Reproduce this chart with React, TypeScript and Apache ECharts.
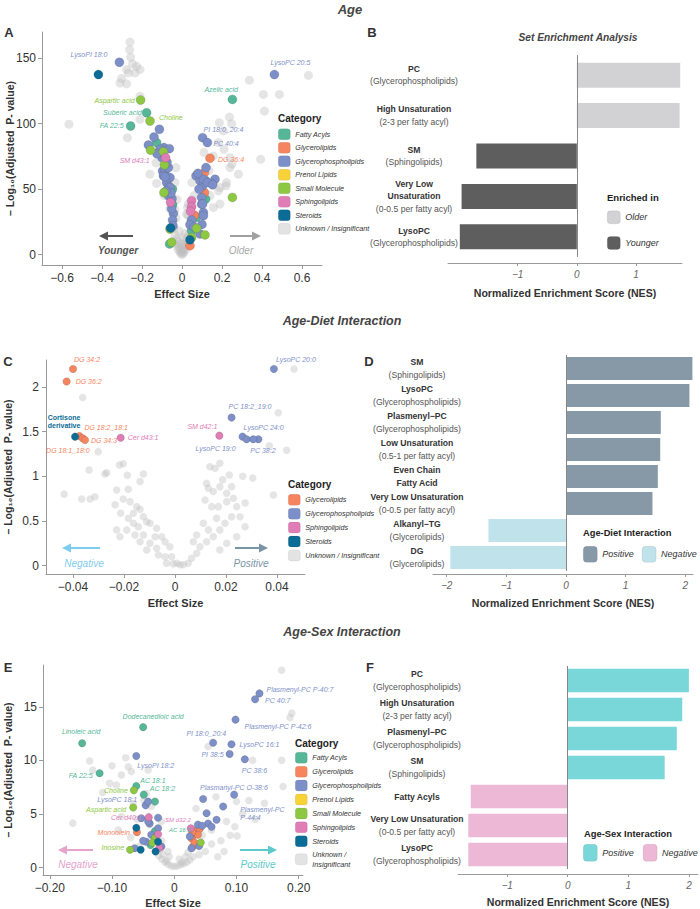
import React, { useEffect, useRef } from 'react';
import * as echarts from 'echarts';

const FN = '"Liberation Sans", Arial, Helvetica, sans-serif';
const FR = '"Liberation Sans", Arial, Helvetica, sans-serif';

// ---------- categories ----------
const CATEGORIES = ['Fatty Acyls', 'Glycerolipids', 'Glycerophospholipids', 'Prenol Lipids', 'Small Molecule', 'Sphingolipids', 'Steroids', 'Unknown / Insignificant'];
const CAT_COLORS = ['#55b798', '#f6855f', '#7d8fc9', '#f8d239', '#8ec843', '#e07cb6', '#0b6c96', '#dcdcdc'];
const UNKNOWN_FILL = 'rgba(190,190,190,0.5)';

// ---------- Panel A : Age volcano ----------
const A_FA = [[-0.127, 85.5], [-0.048, 50], [-0.047, 38], [-0.062, 8.1], [0.118, 42.4], [0.073, 28.4], [0.048, 18.3]];
const A_GL = [[0.112, 62.6], [0.112, 47.4], [0.062, 30], [0.04, 6.8]];
const A_GP = [[-0.113, 95.7], [-0.14, 89.8], [-0.168, 83.7], [-0.09, 81.7], [-0.063, 80.9], [-0.11, 80.4], [-0.097, 63.9], [-0.085, 63.9], [-0.068, 66.4], [-0.093, 60.1], [-0.06, 58.8], [-0.077, 55], [-0.065, 52], [-0.068, 44.9], [-0.05, 42.6], [-0.043, 31.4], [-0.047, 26.3], [-0.085, 59.4], [-0.06, 51.2], [-0.052, 35], [-0.045, 22], [-0.075, 70.5], [-0.1, 74], [-0.055, 47], [-0.08, 48.5], [-0.125, 77],
  [0.12, 66.4], [0.07, 60.1], [0.09, 56.3], [0.12, 56.3], [0.165, 57.6], [0.148, 54.3], [0.103, 52.5], [0.098, 43.6], [0.098, 38.5], [0.107, 32.2], [0.048, 26.4], [0.04, 22.8], [0.09, 15.7], [0.107, 57.6], [0.127, 55], [0.153, 53.3], [0.103, 38.6], [0.107, 29.7], [0.085, 50], [0.08, 62], [0.06, 21], [0.1, 23]];
const A_PR: number[][] = [];
const A_SM = [[-0.157, 79.7], [-0.093, 78.6], [-0.088, 68.5], [-0.09, 47.4], [-0.06, 19.5], [-0.052, 9.4], [0.252, 43.6], [0.073, 20], [0.115, 15], [0.048, 13]];
const A_SP = [[-0.057, 39.8], [0.048, 41.1], [0.048, 36.5], [0.043, 33]];
const A_ST = [[-0.418, 137.5], [-0.057, 20.3], [0.04, 11.2]];
const A_UN = [[-0.26, 162.3], [-0.262, 156.5], [-0.257, 150.7], [-0.247, 145.6], [-0.227, 143.8], [-0.277, 141.3], [-0.235, 138.7], [-0.268, 138.7], [-0.21, 141.3], [-0.302, 134.5], [-0.31, 131], [-0.277, 130.4], [-0.21, 121], [-0.21, 103.3], [-0.565, 99.6], [-0.273, 89.3], [-0.16, 61.4], [-0.127, 54.3], [-0.09, 45], [-0.03, 66.4], [-0.13, 70], [-0.035, 55], [-0.025, 42], [-0.06, 35],
  [0, 0], [-0.01, 2], [0.01, 2], [-0.02, 4], [0.02, 4], [-0.005, 1], [0.005, 1], [-0.015, 6], [0.015, 6], [-0.03, 8], [0.03, 8], [-0.025, 12], [0.025, 12], [-0.035, 15], [0.035, 15], [0, 3], [-0.01, 5], [0.01, 5], [-0.04, 20], [0.04, 24], [-0.02, 10], [0.02, 10], [0.005, 7], [-0.005, 8], [-0.045, 26], [0.03, 30], [0.045, 18], [-0.03, 28], [0.055, 26], [-0.015, 18], [0.015, 16], [0.005, 13], [-0.035, 34], [0.028, 36],
  [0.337, 133.2], [0.407, 122.3], [0.487, 122.3], [0.412, 109.6], [0.632, 136.8], [0.237, 105], [0.248, 99.9], [0.187, 100.7], [0.207, 94.4], [0.182, 85.5], [0.21, 80.4], [0.24, 74], [0.282, 61.4], [0.25, 69], [0.157, 75.3], [0.157, 55], [0.22, 52.5], [0.19, 38.6], [0.032, 38.6], [0.023, 31], [0.182, 48.7], [0.393, 72.8], [0.24, 66.4], [0.223, 55], [0.19, 51.2], [0.157, 36], [0.135, 64], [0.06, 45], [0.05, 55], [0.14, 45], [0.11, 78]];
// [name, category index, effect size, -log10 p]
const A_LABELED: [string, number, number, number][] = [
  ['LysoPI 18:0', 2, -0.313, 146.9], ['Aspartic acid', 4, -0.207, 118], ['Suberic acid', 0, -0.177, 108.3], ['Choline', 4, -0.16, 102],
  ['FA 22:5', 0, -0.257, 98.2], ['SM d43:1', 5, -0.082, 74], ['PI 18:0_20:4', 2, 0.103, 89.3], ['PC 40:4', 2, 0.127, 85.5],
  ['DG 36:4', 1, 0.14, 73.6], ['Azelic acid', 0, 0.252, 118.5], ['LysoPC 20:5', 2, 0.462, 137.5]];
const A_X_TICKS = [-0.6, -0.4, -0.2, 0, 0.2, 0.4, 0.6];
const A_Y_TICKS = [0, 50, 100, 150];

// ---------- Panel B : Age NES ----------
const B_CATS = ['PC', 'High Unsaturation', 'SM', 'Very Low\nUnsaturation', 'LysoPC'];
const B_SUBS = ['(Glycerophospholipids)', '(2-3 per fatty acyl)', '(Sphingolipids)', '(0-0.5 per fatty acyl)', '(Glycerophospholipids)'];
const B_NES = [1.75, 1.74, -1.70, -1.95, -1.98];
const B_TICKS = [-1, 0, 1];

// ---------- Panel C : Age-Diet volcano ----------
const C_GP = [[0.0327, 1.414]];
const C_UN = [[-0.0362, 1.88], [-0.0301, 1.275], [-0.0337, 1.07], [-0.0435, 0.8], [-0.0366, 0.745], [-0.0333, 0.745], [-0.0314, 0.77], [-0.0218, 1.126], [-0.0275, 1.026], [-0.0187, 1.01], [-0.0124, 1.026], [-0.0229, 0.847], [-0.0183, 0.855], [-0.0235, 0.68], [-0.0213, 0.586], [-0.0137, 0.94],
  [-0.0203, 0.746], [-0.0176, 0.716], [-0.015, 0.66], [-0.0183, 0.53], [-0.0163, 0.586], [-0.0137, 0.63], [-0.0124, 0.548], [-0.0111, 0.492], [-0.0163, 0.474], [-0.0144, 0.436], [-0.0098, 0.474], [-0.0072, 0.418], [-0.0189, 0.4], [-0.0216, 0.324], [-0.0229, 0.4], [-0.0157, 0.343], [-0.0124, 0.343], [-0.0078, 0.324], [-0.0052, 0.324], [-0.0137, 0.268], [-0.0098, 0.25], [-0.0039, 0.268], [-0.002, 0.212], [-0.0072, 0.195], [-0.0111, 0.176], [-0.0065, 0.12], [-0.0039, 0.1], [-0.0013, 0.1], [0.0007, 0.027], [-0.0033, 0.027], [0.002, 0.01], [-0.0007, 0.02],
  [0.0137, 1.107], [0.0157, 1.09], [0.0176, 1.145], [0.0213, 1.015], [0.0222, 0.884], [0.0187, 0.96], [0.0131, 0.866], [0.015, 0.83], [0.0118, 0.735], [0.0144, 0.66], [0.017, 0.66], [0.0203, 0.716], [0.0242, 0.66], [0.0222, 0.548], [0.0196, 0.474], [0.0176, 0.4], [0.015, 0.324], [0.0124, 0.268], [0.0098, 0.212], [0.0085, 0.138], [0.0065, 0.083], [0.0052, 0.027], [0.0033, 0.01], [0.0131, 0.4], [0.0111, 0.474], [0.0085, 0.343], [0.0072, 0.268], [0.0163, 0.53], [0.0255, 0.548], [0.0275, 0.436], [0.0203, 0.25], [0.0176, 0.176], [0.0242, 0.324], [0.0275, 0.7], [0.0124, 0.92], [0.0176, 0.884], [0.0229, 0.754], [0.0203, 0.81],
  [0.0467, 2.2], [0.0405, 1.71], [0.0438, 1.29], [0.037, 1.34], [0.0386, 0.79], [0.0266, 1.0], [0.0305, 0.98], [-0.0268, 1.04], [-0.0203, 1.14]];
const C_LABELED: [string, number, number, number][] = [
  ['DG 34:2', 1, -0.04, 2.2], ['DG 36:2', 1, -0.0425, 2.06], ['DG 18:2_18:1', 1, -0.0375, 1.45], ['DG 18:1_18:0', 1, -0.0362, 1.425], ['DG 34:3', 1, -0.0353, 1.405],
  ['Cortisone\nderivative', 6, -0.0392, 1.443], ['Cer d43:1', 5, -0.0213, 1.43], ['SM d42:1', 5, 0.0174, 1.454], ['PC 18:2_19:0', 2, 0.0222, 1.656],
  ['LysoPC 20:0', 2, 0.0388, 2.2], ['LysoPC 19:0', 2, 0.0265, 1.443], ['LysoPC 24:0', 2, 0.0281, 1.414], ['PC 38:2', 2, 0.0307, 1.414]];
const C_X_TICKS = [-0.04, -0.02, 0, 0.02, 0.04];
const C_Y_TICKS = [0, 0.5, 1, 1.5, 2];
const C_LEGEND = ['Glycerolipids', 'Glycerophospholipids', 'Sphingolipids', 'Steroids', 'Unknown / Insignificant'];

// ---------- Panel D : Age-Diet NES ----------
const D_CATS = ['SM', 'LysoPC', 'Plasmenyl\u2212PC', 'Low Unsaturation', 'Even Chain\nFatty Acid', 'Very Low Unsaturation', 'Alkanyl\u2212TG', 'DG'];
const D_SUBS = ['(Sphingolipids)', '(Glycerophospholipids)', '(Glycerophospholipids)', '(0.5-1 per fatty acyl)', '', '(0-0.5 per fatty acyl)', '(Glycerolipids)', '(Glycerolipids)'];
const D_NES = [2.12, 2.07, 1.59, 1.58, 1.54, 1.45, -1.3, -1.94];
const D_TICKS = [-2, -1, 0, 1, 2];

// ---------- Panel E : Age-Sex volcano ----------
const E_FA = [[-0.031, 6.15], [-0.038, 2.1], [-0.033, 3.0]];
const E_GL = [[0.036, 3.5], [0.041, 3.6], [0.032, 3.05], [0.028, 2.7], [0.03, 1.95], [0.038, 3.05], [0.033, 2.3], [0.029, 3.3]];
const E_GP = [[0.0786, 5.7], [0.068, 4.45], [0.052, 5.07], [0.0545, 4.1], [0.038, 4.0], [0.06, 3.8], [0.045, 3.9], [0.025, 2.9], [0.0277, 1.8], [0.04, 2.0], [-0.046, 5.8], [-0.053, 4.6], [-0.026, 4.65], [-0.0395, 4.1], [-0.026, 3.67], [-0.037, 3.05], [-0.045, 2.4], [-0.0636, 1.8], [-0.0206, 1.95], [-0.05, 2.5], [-0.042, 4.3]];
const E_PR: number[][] = [];
const E_SM = [[-0.031, 2.75], [-0.035, 2.3], [0.0427, 2.33]];
const E_SP = [[-0.026, 3.1], [-0.024, 1.85]];
const E_ST = [[-0.061, 3.7], [-0.054, 1.65], [-0.026, 2.4], [-0.03, 1.5]];
const E_UN = [[0.1726, 18.4], [0.189, 14.4], [0.186, 14.0], [0.1726, 10.0], [0.175, 7.55], [0.126, 10.0], [0.12, 6.25], [0.101, 2.95], [0.0975, 3.8], [0.084, 4.3], [0.0545, 11.3], [0.067, 6.6], [0.1, 6.15], [0.11, 5.0], [0.13, 4.5], [0.09, 3.0], [0.075, 2.5], [0.06, 2.2], [0.05, 1.5], [0.04, 1.2], [0.03, 1.0], [0.025, 0.7], [0.02, 0.5], [0.015, 0.35], [0.01, 0.25], [0.005, 0.15], [0, 0.1], [-0.005, 0.15], [-0.01, 0.3], [-0.015, 0.5], [-0.02, 0.8], [-0.025, 1.1], [-0.03, 1.5],
  [-0.012, 0.6], [0.012, 0.5], [-0.018, 1.2], [0.018, 1.0], [0.008, 0.8], [-0.008, 1.0], [0.022, 1.4], [-0.022, 1.7], [0.045, 3.0], [0.06, 3.5], [0.08, 1.5], [0.035, 5.5], [0.145, 6.0], [0.07, 1.0],
  [-0.163, 4.14], [-0.136, 9.95], [-0.131, 9.1], [-0.104, 7.87], [-0.078, 10.25], [-0.074, 9.4], [-0.069, 8.95], [-0.085, 8.64], [-0.042, 9.1], [-0.093, 7.7], [-0.085, 4.75], [-0.066, 6.0], [-0.049, 6.3], [-0.045, 6.9], [-0.037, 5.7], [-0.0206, 4.3], [-0.09, 3.5], [-0.07, 2.8], [-0.055, 2.0], [-0.06, 4.5], [-0.04, 4.0], [-0.02, 2.5], [-0.01, 1.5], [-0.1, 9.5], [-0.115, 7.0]];
const E_LABELED: [string, number, number, number][] = [
  ['Plasmenyl-PC P-40:7', 2, 0.137, 16.25], ['PC 40:7', 2, 0.13, 15.7], ['Plasmenyl-PC P-42:6', 2, 0.0985, 13.8], ['PI 18:0_20:4', 2, 0.0625, 11.65],
  ['LysoPC 16:1', 2, 0.092, 11.5], ['PI 38:5', 2, 0.089, 10.6], ['PC 38:6', 2, 0.1135, 10.1], ['Plasmanyl-PC O-38:6', 2, 0.0464, 6.4],
  ['Plasmenyl-PC\nP-44:4', 2, 0.0963, 6.8], ['SM d32:2', 5, 0.0266, 3.67], ['AC 16:0', 0, -0.031, 3.4], ['Linoleic acid', 0, -0.148, 11.6],
  ['Dodecanedioic acid', 0, -0.05, 13.1], ['FA 22:5', 0, -0.12, 8.8], ['LysoPI 18:2', 2, -0.061, 10.4], ['AC 18:1', 0, -0.061, 7.6],
  ['Choline', 4, -0.065, 7.2], ['AC 18:2', 0, -0.049, 6.8], ['LysoPC 18:1', 2, -0.042, 6.15], ['Aspartic acid', 4, -0.066, 5.6],
  ['Cer d40:1', 5, -0.041, 4.7], ['Monoolein', 1, -0.06, 3.3], ['Inosine', 4, -0.071, 1.65]];
const E_X_TICKS = [-0.2, -0.1, 0, 0.1, 0.2];
const E_Y_TICKS = [0, 5, 10, 15];

// ---------- Panel F : Age-Sex NES ----------
const F_CATS = ['PC', 'High Unsaturation', 'Plasmenyl\u2212PC', 'SM', 'Fatty Acyls', 'Very Low Unsaturation', 'LysoPC'];
const F_SUBS = ['(Glycerophospholipids)', '(2-3 per fatty acyl)', '(Glycerophospholipids)', '(Sphingolipids)', '', '(0-0.5 per fatty acyl)', '(Glycerophospholipids)'];
const F_NES = [2.0, 1.89, 1.8, 1.6, -1.6, -1.64, -1.64];
const F_TICKS = [-1, 0, 1, 2];

// ---------- label placement (pixel offsets, kept apart from data) ----------
type LP = [number, number, string, number?, boolean?];
const A_LABEL_POS: Record<string, LP> = {
  'LysoPI 18:0': [-12, -8, 'right'], 'Aspartic acid': [-6, 0, 'right'], 'Suberic acid': [-5, 0, 'right'], 'FA 22:5': [-7, 0, 'right'],
  'Choline': [9, -4, 'left'], 'SM d43:1': [-16, 3, 'right'], 'PI 18:0_20:4': [1, -8, 'left'], 'PC 40:4': [6, 1, 'left'],
  'DG 36:4': [8, 1, 'left'], 'Azelic acid': [-28, -10, 'left'], 'LysoPC 20:5': [-4, -12, 'left']};
const C_LABEL_POS: Record<string, LP> = {
  'DG 34:2': [1, -9, 'left'], 'DG 36:2': [9, 0, 'left'], 'Cortisone\nderivative': [-11, -15, 'center', 7, true], 'DG 18:2_18:1': [5, -9, 'left'],
  'DG 18:1_18:0': [7, 12, 'right'], 'DG 34:3': [6, 0, 'left'], 'Cer d43:1': [7, 0, 'left'], 'SM d42:1': [-2, -9, 'right'],
  'PC 18:2_19:0': [-3, -11, 'left'], 'LysoPC 20:0': [2, -9, 'left'], 'LysoPC 19:0': [-7, 12, 'right'], 'LysoPC 24:0': [-3, -12, 'left'], 'PC 38:2': [-3, 11, 'left']};
const E_LABEL_POS: Record<string, LP> = {
  'Plasmenyl-PC P-40:7': [7, -4, 'left'], 'PC 40:7': [10, 1, 'left'], 'Plasmenyl-PC P-42:6': [9, 7, 'left'], 'PI 18:0_20:4': [13, -9, 'right'],
  'LysoPC 16:1': [8, 0, 'left'], 'PI 38:5': [-6, 1, 'right'], 'PC 38:6': [-3, 11, 'left'], 'Plasmanyl-PC O-38:6': [-3, -11, 'left'],
  'Plasmenyl-PC\nP-44:4': [6, 19, 'left'], 'SM d32:2': [0, -8, 'right', 6], 'AC 16:0': [14, -1, 'left', 6], 'Linoleic acid': [-1, -12, 'center'],
  'Dodecanedioic acid': [10, -11, 'center'], 'FA 22:5': [-7, 2, 'right'], 'LysoPI 18:2': [1, 9, 'left'], 'AC 18:1': [4, -6, 'left'],
  'Choline': [-6, 0, 'right'], 'AC 18:2': [6, -6, 'left'], 'LysoPC 18:1': [-11, -2, 'right'], 'Aspartic acid': [-7, 2, 'right'],
  'Cer d40:1': [-7, 0, 'right'], 'Monoolein': [-7, 0, 'right'], 'Inosine': [-6, -2, 'right']};

const AXIS_GRAY = '#9a9a9a';
const minus = (s: string) => s.replace('-', '\u2212');

function scatterSeries(gi: number, sets: number[][][], labeled: [string, number, number, number][], pos: Record<string, LP>, size: number) {
  return sets.map((pts, ci) => {
    const data: any[] = pts.map((p) => ({ value: p }));
    labeled.filter((l) => l[1] === ci).forEach((l) => {
      const p = pos[l[0]];
      data.push({
        value: [l[2], l[3]], name: l[0],
        label: {
          show: true, formatter: l[0], position: 'inside', offset: [p[0], p[1]], align: p[2], verticalAlign: 'middle',
          color: CAT_COLORS[ci], fontFamily: FN, fontSize: p[3] || 7, fontStyle: p[4] ? 'normal' : 'italic',
          fontWeight: p[4] ? 'bold' : 'normal', lineHeight: 8.5, textBorderWidth: 0,
        },
      });
    });
    const unknown = ci === 7;
    return {
      type: 'scatter', name: CATEGORIES[ci], xAxisIndex: gi, yAxisIndex: gi, data, symbolSize: size, silent: true,
      z: unknown ? 2 : 3,
      itemStyle: unknown ? { color: UNKNOWN_FILL } : { color: CAT_COLORS[ci], opacity: 1, borderColor: 'rgba(60,60,60,0.35)', borderWidth: 0.5 },
      label: { show: false },
      emphasis: { disabled: true },
    };
  });
}

function barSeries(gi: number, values: number[], posName: string, negName: string, posColor: string, negColor: string, barWidth: string) {
  return [
    {
      type: 'bar', name: posName, xAxisIndex: gi, yAxisIndex: gi, stack: 'nes' + gi, barWidth, silent: true,
      data: values.map((v) => (v > 0 ? v : '-')), itemStyle: { color: posColor },
      markLine: { silent: true, symbol: 'none', label: { show: false }, lineStyle: { color: '#888', width: 1, type: 'solid' }, data: [{ xAxis: 0 }] },
    },
    {
      type: 'bar', name: negName, xAxisIndex: gi, yAxisIndex: gi, stack: 'nes' + gi, barWidth, silent: true,
      data: values.map((v) => (v < 0 ? v : '-')), itemStyle: { color: negColor },
    },
  ];
}

function scatterAxes(gi: number, xr: number[], yr: number[], xt: number[], yt: number[], xfmt: (v: number) => string, xNameGap: number, yNameGap: number, yMargin: number) {
  const common = {
    gridIndex: gi, type: 'value', splitLine: { show: false },
    axisLine: { show: true, onZero: false, lineStyle: { color: AXIS_GRAY, width: 1 } },
    axisTick: { show: true, length: 4, lineStyle: { color: AXIS_GRAY } },
    nameTextStyle: { fontFamily: FN, fontWeight: 'bold', fontSize: 11, color: '#333' },
    nameLocation: 'middle', nameMoveOverlap: false,
  };
  const x = {
    ...common, min: xr[0], max: xr[1], name: 'Effect Size', nameGap: xNameGap,
    axisTick: { ...common.axisTick, customValues: xt },
    axisLabel: { customValues: xt, formatter: xfmt, fontFamily: FR, fontSize: 12, color: '#333', margin: 7 },
  };
  const y = {
    ...common, min: yr[0], max: yr[1], name: '\u2013 Log\u2081\u2080(Adjusted  P- value)', nameGap: yNameGap,
    nameTextStyle: { ...common.nameTextStyle, fontSize: 10.5 },
    axisTick: { ...common.axisTick, customValues: yt },
    axisLabel: { customValues: yt, formatter: (v: number) => String(v), fontFamily: FR, fontSize: 12, color: '#333', margin: yMargin },
  };
  return { x, y };
}

function barAxes(gi: number, xr: number[], ticks: number[], offset: number, cats: string[], subs: string[], margin: number, nameGap: number) {
  const x = {
    gridIndex: gi, type: 'value', min: xr[0], max: xr[1], offset, splitLine: { show: false },
    axisLine: { show: true, onZero: false, lineStyle: { color: AXIS_GRAY } },
    axisTick: { show: true, length: 3, customValues: ticks, lineStyle: { color: AXIS_GRAY } },
    axisLabel: { customValues: ticks, formatter: (v: number) => minus(String(v)), fontFamily: FN, fontStyle: 'italic', fontSize: 10, color: '#666', margin: 6 },
    name: 'Normalized Enrichment Score (NES)', nameLocation: 'middle', nameGap, nameMoveOverlap: false,
    nameTextStyle: { fontFamily: FN, fontWeight: 'bold', fontSize: 10.6, color: '#333' },
  };
  const y = {
    gridIndex: gi, type: 'category', data: cats, inverse: true,
    axisLine: { show: false }, axisTick: { show: false }, splitLine: { show: false },
    axisLabel: {
      align: 'center', margin, interval: 0,
      formatter: (v: string, i: number) => {
        const lines = v.split('\n').map((s) => '{b|' + s + '}');
        if (subs[i]) lines.push('{n|' + subs[i] + '}');
        return lines.join('\n');
      },
      rich: {
        b: { fontFamily: FN, fontWeight: 'bold', fontSize: 8.6, color: '#333', lineHeight: 12.5, align: 'center' },
        n: { fontFamily: FN, fontSize: 8.6, color: '#555', lineHeight: 12.5, align: 'center' },
      },
    },
  };
  return { x, y };
}

function arrow(x1: number, x2: number, y: number, color: string) {
  const dir = x2 > x1 ? 1 : -1;
  return [
    { type: 'polyline', silent: true, shape: { points: [[x1, y], [x2 - dir * 4, y]] }, style: { stroke: color, lineWidth: 2, fill: null } },
    { type: 'polygon', silent: true, shape: { points: [[x2, y], [x2 - dir * 9, y - 4.5], [x2 - dir * 9, y + 4.5]] }, style: { fill: color } },
  ];
}

function text(x: number, y: number, t: string, size: number, opts: any = {}) {
  return {
    type: 'text', x, y, silent: true,
    style: { text: t, fontSize: size, fontFamily: opts.family || FN, fontWeight: opts.weight || 'bold', fontStyle: opts.style || 'normal', fill: opts.color || '#333', align: opts.align || 'center', verticalAlign: 'middle' },
  };
}

function legendBox(left: number, top: number, names: string[], colors: string[], opts: any = {}) {
  return {
    show: true, left, top, padding: 0, orient: opts.orient || 'vertical', icon: 'roundRect', selectedMode: false,
    width: opts.width, itemWidth: opts.w || 12, itemHeight: opts.h || 11, itemGap: opts.gap ?? 2,
    textStyle: { fontFamily: FN, fontStyle: 'italic', fontSize: opts.fs || 7.2, color: '#333', lineHeight: opts.lh || 10 },
    formatter: opts.formatter,
    data: names.map((n, i) => ({ name: n, itemStyle: { color: colors[i], borderColor: 'rgba(0,0,0,0.12)', borderWidth: 0.6 } })),
  };
}

export default function App() {
  const ref = useRef<HTMLDivElement>(null);
  useEffect(() => {
    document.body.style.margin = '0';
    const chart = echarts.init(ref.current!, null, { renderer: 'svg' });

    const grids = [
      { left: 42, top: 32, width: 280, height: 233 },
      { left: 448, top: 55, width: 234, height: 202 },
      { left: 46, top: 360, width: 259, height: 214 },
      { left: 433, top: 355, width: 260, height: 216 },
      { left: 43, top: 665, width: 260, height: 210 },
      { left: 458, top: 666, width: 240, height: 203 },
    ].map((g) => ({ ...g, containLabel: false, outerBoundsMode: 'none' }));

    const aAx = scatterAxes(0, [-0.7, 0.7], [-8, 170], A_X_TICKS, A_Y_TICKS, (v) => minus(String(v)), 23.5, 27, 6);
    const cAx = scatterAxes(2, [-0.0506, 0.051], [-0.093, 2.3], C_X_TICKS, C_Y_TICKS, (v) => minus(String(v)), 23.5, 33, 7);
    const eAx = scatterAxes(4, [-0.211, 0.207], [-0.7, 18.9], E_X_TICKS, E_Y_TICKS, (v) => (v === 0 ? '0' : minus(v.toFixed(2))), 22, 30, 6);
    const bAx = barAxes(1, [-2.18, 1.78], B_TICKS, 6, B_CATS, B_SUBS, 34, 24.5);
    const dAx = barAxes(3, [-2.23, 2.13], D_TICKS, 3, D_CATS, D_SUBS, 16, 23.5);
    const fAx = barAxes(5, [-1.81, 2.15], F_TICKS, 5, F_CATS, F_SUBS, 41, 22);

    const series = [
      ...scatterSeries(0, [A_FA, A_GL, A_GP, A_PR, A_SM, A_SP, A_ST, A_UN], A_LABELED, A_LABEL_POS, 9),
      ...scatterSeries(2, [[], [], C_GP, [], [], [], [], C_UN], C_LABELED, C_LABEL_POS, 7.5),
      ...scatterSeries(4, [E_FA, E_GL, E_GP, E_PR, E_SM, E_SP, E_ST, E_UN], E_LABELED, E_LABEL_POS, 7.5),
      ...barSeries(1, B_NES, 'Older', 'Younger', '#d2d2d4', '#5e5e5e', '62%'),
      ...barSeries(3, D_NES, 'Positive', 'Negative', '#8799a6', '#bfe2eb', '85%'),
      ...barSeries(5, F_NES, 'Positive', 'Negative', '#79d7da', '#edb8d6', '81%'),
    ];

    const catColor = (n: string) => CAT_COLORS[CATEGORIES.indexOf(n)];

    const option: any = {
      animation: false,
      backgroundColor: '#ffffff',
      grid: grids,
      xAxis: [aAx.x, bAx.x, cAx.x, dAx.x, eAx.x, fAx.x],
      yAxis: [aAx.y, bAx.y, cAx.y, dAx.y, eAx.y, fAx.y],
      legend: [
        legendBox(278, 128.5, CATEGORIES, CAT_COLORS, { gap: 1.9 }),
        legendBox(288, 494, C_LEGEND, C_LEGEND.map(catColor), { gap: 2.3 }),
        legendBox(295, 752, CATEGORIES, CAT_COLORS, { gap: 2.3, formatter: (n: string) => (n === 'Unknown / Insignificant' ? 'Unknown /\nInsignificant' : n) }),
        legendBox(607, 210.5, ['Older', 'Younger'], ['#d2d2d4', '#5e5e5e'], { w: 13, h: 13, gap: 12, fs: 9, lh: 13 }),
        legendBox(583, 546, ['Positive', 'Negative'], ['#8799a6', '#bfe2eb'], { orient: 'horizontal', w: 14, h: 16, gap: 8, fs: 9, lh: 16, width: 117 }),
        legendBox(583, 844, ['Positive', 'Negative'], ['#79d7da', '#edb8d6'], { orient: 'horizontal', w: 14, h: 17, gap: 9, fs: 9, lh: 17, width: 117 }),
      ],
      graphic: [
        text(350, 9, 'Age', 13, { style: 'italic', color: '#444' }),
        text(342, 321, 'Age-Diet Interaction', 12.5, { style: 'italic', color: '#444' }),
        text(342, 632, 'Age-Sex Interaction', 12.5, { style: 'italic', color: '#444' }),
        text(578, 37, 'Set Enrichment Analysis', 10.2, { style: 'italic', color: '#444' }),
        text(9, 32, 'A', 13, { family: FR }), text(372, 32, 'B', 13, { family: FR }),
        text(8, 361, 'C', 13, { family: FR }), text(369, 361, 'D', 13, { family: FR }),
        text(8, 667, 'E', 13, { family: FR }), text(370, 667, 'F', 13, { family: FR }),
        text(278, 118, 'Category', 10, { align: 'left', color: '#222' }),
        text(288, 484, 'Category', 10, { align: 'left', color: '#222' }),
        text(295, 743, 'Category', 10, { align: 'left', color: '#222' }),
        text(607, 197, 'Enriched in', 9.5, { align: 'left', color: '#222' }),
        text(583, 533, 'Age-Diet Interaction', 9.3, { align: 'left', color: '#222' }),
        text(584, 833, 'Age-Sex Interaction', 9.4, { align: 'left', color: '#222' }),
        ...arrow(133, 99, 236, '#555'),
        text(118, 250, 'Younger', 10, { style: 'italic', color: '#555' }),
        ...arrow(230, 261, 236, '#a0a0a0'),
        text(241, 250, 'Older', 10, { style: 'italic', weight: 'normal', color: '#a8a8a8' }),
        ...arrow(100, 62, 548, '#7fcdee'),
        text(84, 563, 'Negative', 10, { style: 'italic', weight: 'normal', color: '#7fcdee' }),
        ...arrow(235, 268, 548, '#7a94a5'),
        text(251, 563, 'Positive', 10, { style: 'italic', weight: 'normal', color: '#7a94a5' }),
        ...arrow(93, 58, 850, '#e6a3cc'),
        text(78, 864, 'Negative', 10, { style: 'italic', weight: 'normal', color: '#e6a3cc' }),
        ...arrow(240, 277, 850, '#5ccaca'),
        text(258, 864, 'Positive', 10, { style: 'italic', weight: 'normal', color: '#5ccaca' }),
      ],
      series,
    };
    chart.setOption(option);
    return () => chart.dispose();
  }, []);
  return <div ref={ref} style={{ width: 700, height: 909 }} />;
}
